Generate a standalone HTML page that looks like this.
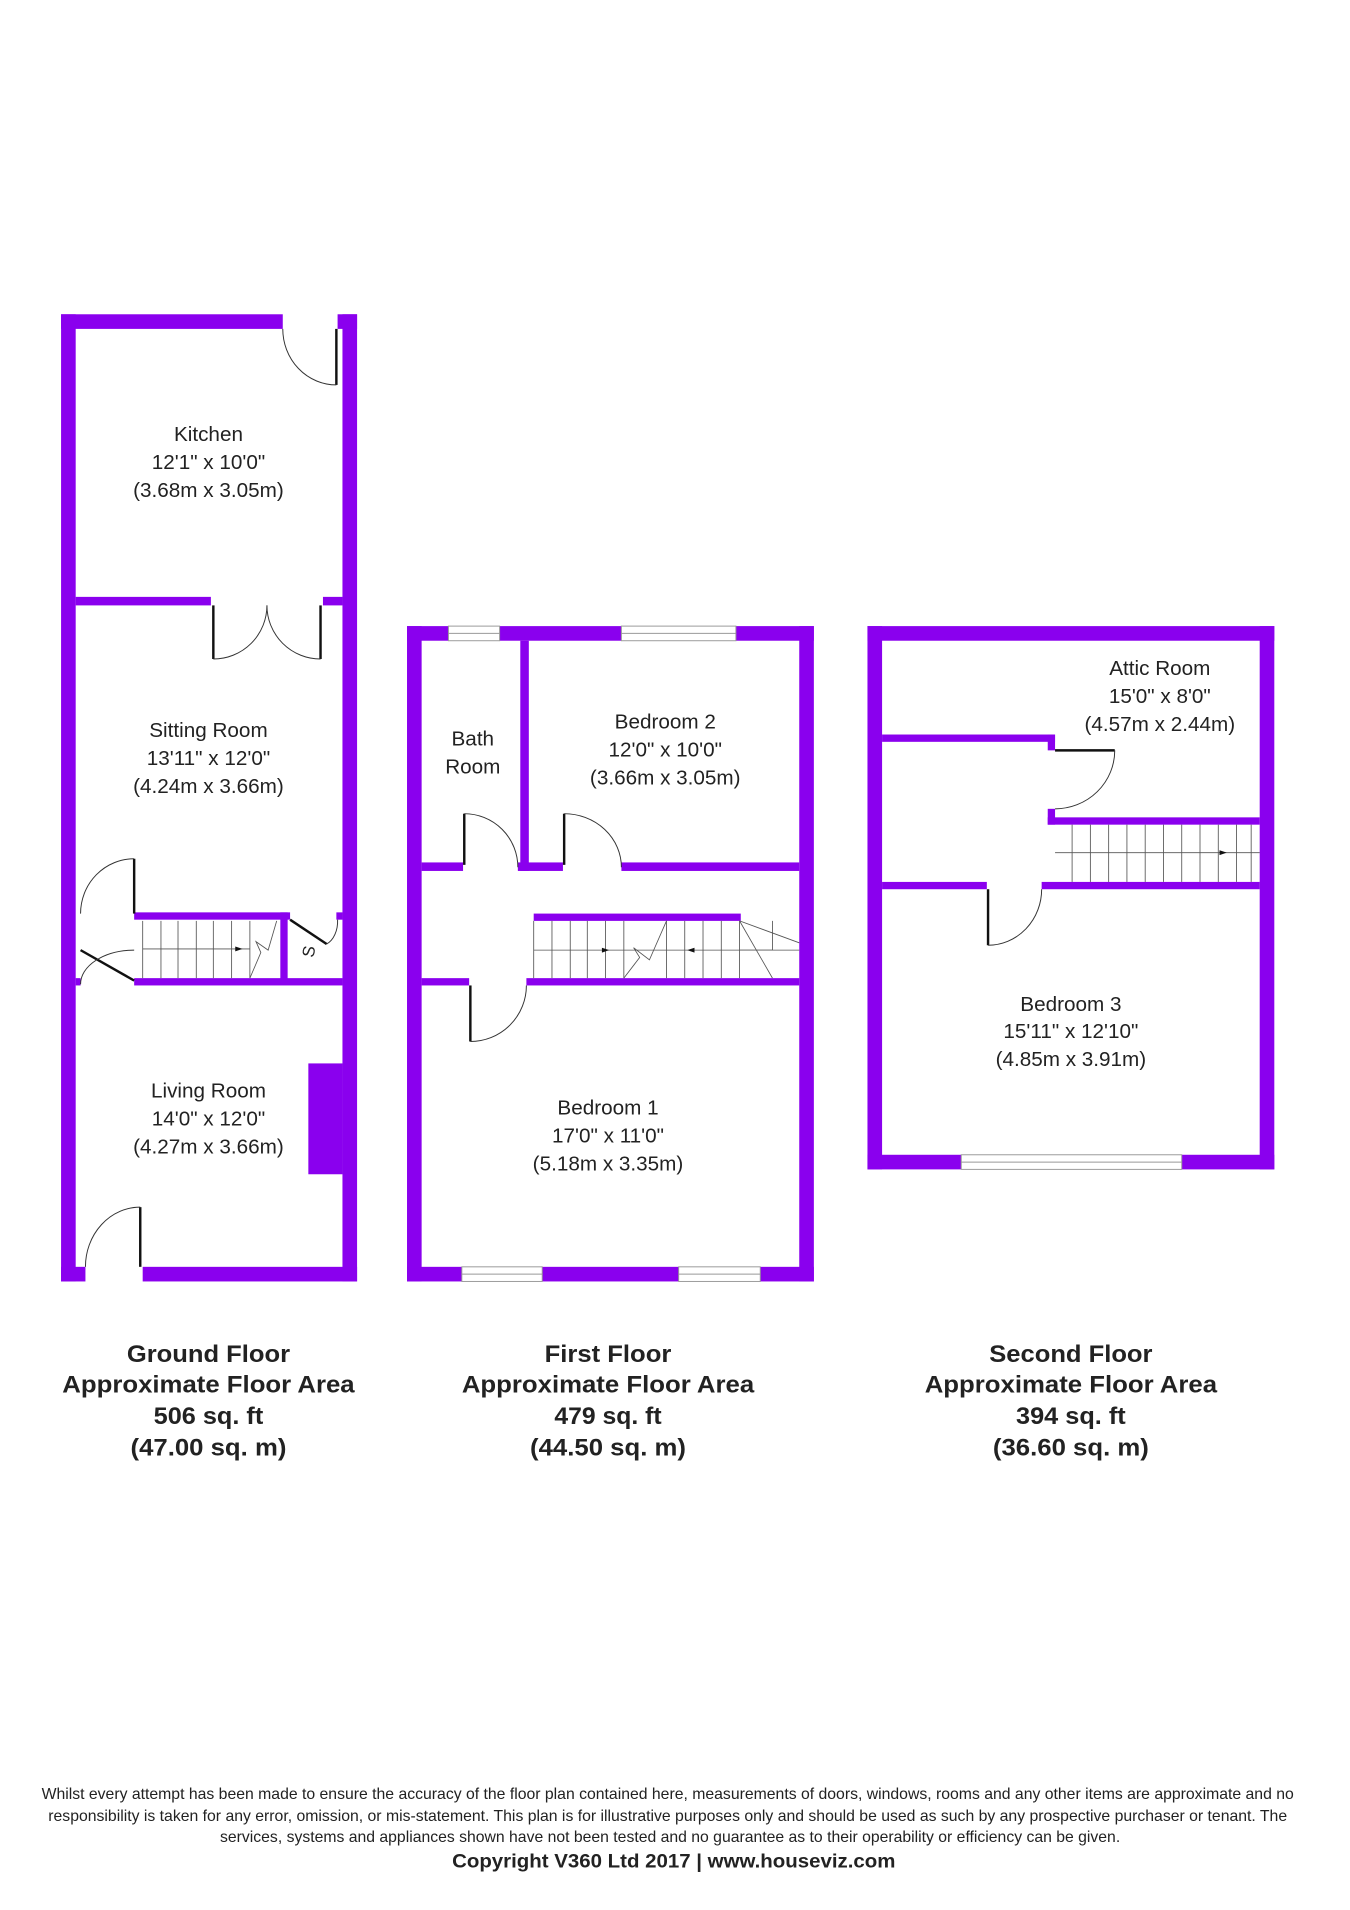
<!DOCTYPE html>
<html><head><meta charset="utf-8"><style>
html,body{margin:0;padding:0;background:#fff;}
svg{display:block;}
text{font-family:"Liberation Sans",sans-serif;fill:#222;}
</style></head><body>
<svg width="1350" height="1910" viewBox="0 0 1108 1568" xmlns="http://www.w3.org/2000/svg">
<rect width="1108" height="1568" fill="#fff"/>
<g fill="#8a00ee">
<!-- Ground floor -->
<rect x="50" y="258" width="182" height="12"/>
<rect x="277" y="258" width="16" height="12"/>
<rect x="50" y="258" width="12" height="794"/>
<rect x="281" y="258" width="12" height="794"/>
<rect x="62" y="490" width="111" height="7"/>
<rect x="265" y="490" width="16" height="7"/>
<rect x="110" y="749" width="128" height="6"/>
<rect x="230" y="749" width="6" height="59"/>
<rect x="110" y="803" width="171" height="6"/>
<rect x="62" y="803" width="4" height="6"/>
<rect x="276" y="749" width="5" height="6"/>
<rect x="253" y="873" width="28" height="91"/>
<rect x="50" y="1040" width="20" height="12"/>
<rect x="117" y="1040" width="176" height="12"/>
<!-- First floor -->
<rect x="334" y="514" width="34" height="12"/>
<rect x="410" y="514" width="100" height="12"/>
<rect x="604" y="514" width="64" height="12"/>
<rect x="334" y="514" width="12" height="538"/>
<rect x="656" y="514" width="12" height="538"/>
<rect x="334" y="1040" width="45" height="12"/>
<rect x="445" y="1040" width="112" height="12"/>
<rect x="624" y="1040" width="44" height="12"/>
<rect x="427" y="526" width="7" height="189"/>
<rect x="346" y="708" width="34" height="7"/>
<rect x="425" y="708" width="37" height="7"/>
<rect x="510" y="708" width="146" height="7"/>
<rect x="438" y="750" width="170" height="6"/>
<rect x="346" y="803" width="39" height="6"/>
<rect x="432" y="803" width="224" height="6"/>
<!-- Second floor -->
<rect x="712" y="514" width="334" height="12"/>
<rect x="712" y="514" width="12" height="446"/>
<rect x="1034" y="514" width="12" height="446"/>
<rect x="712" y="948" width="77" height="12"/>
<rect x="970" y="948" width="76" height="12"/>
<rect x="724" y="603" width="142" height="6"/>
<rect x="860" y="603" width="6" height="13"/>
<rect x="860" y="664" width="6" height="13"/>
<rect x="860" y="671" width="174" height="6"/>
<rect x="724" y="724" width="86" height="6"/>
<rect x="855" y="724" width="179" height="6"/>
</g>
<!-- windows -->
<g fill="#fff" stroke="#999" stroke-width="0.8">
<rect x="368" y="514" width="42" height="12"/><line x1="368" y1="520" x2="410" y2="520"/>
<rect x="510" y="514" width="94" height="12"/><line x1="510" y1="520" x2="604" y2="520"/>
<rect x="379" y="1040" width="66" height="12"/><line x1="379" y1="1046" x2="445" y2="1046"/>
<rect x="557" y="1040" width="67" height="12"/><line x1="557" y1="1046" x2="624" y2="1046"/>
<rect x="789" y="948" width="181" height="12"/><line x1="789" y1="954" x2="970" y2="954"/>
</g>
<!-- doors -->
<g fill="none" stroke="#111" stroke-width="2">
<line x1="276" y1="270" x2="276" y2="316"/>
<line x1="175" y1="497" x2="175" y2="541"/>
<line x1="263" y1="497" x2="263" y2="541"/>
<line x1="110" y1="705" x2="110" y2="750"/>
<line x1="66" y1="780" x2="110" y2="805"/>
<line x1="238" y1="755" x2="268" y2="775"/>
<line x1="115" y1="991" x2="115" y2="1040"/>
<line x1="381" y1="668" x2="381" y2="710"/>
<line x1="463" y1="668" x2="463" y2="710"/>
<line x1="386" y1="809" x2="386" y2="855"/>
<line x1="866" y1="616" x2="915" y2="616"/>
<line x1="811" y1="730" x2="811" y2="776"/>
</g>
<g fill="none" stroke="#333" stroke-width="0.8">
<path d="M232,270 A44,46 0 0 0 276,316"/>
<path d="M219,497 A44,44 0 0 1 175,541"/>
<path d="M219,497 A44,44 0 0 0 263,541"/>
<path d="M66,750 A44,45 0 0 1 110,705"/>
<path d="M66,808 A44,28 0 0 1 110,780"/>
<path d="M277,755 A14,20 0 0 1 268,775"/>
<path d="M70,1040 A45,49 0 0 1 115,991"/>
<path d="M381,668 A44,44 0 0 1 425,712"/>
<path d="M463,668 A47,44 0 0 1 510,712"/>
<path d="M432,809 A46,46 0 0 1 386,855"/>
<path d="M915,616 A49,48 0 0 1 866,664"/>
<path d="M855,730 A44,46 0 0 1 811,776"/>
</g>
<!-- stairs -->
<g fill="none" stroke="#555" stroke-width="0.7">
<line x1="117" y1="779" x2="205" y2="779"/>
<line x1="117" y1="756" x2="117" y2="803"/><line x1="132" y1="756" x2="132" y2="803"/><line x1="146" y1="756" x2="146" y2="803"/><line x1="161" y1="756" x2="161" y2="803"/><line x1="175" y1="756" x2="175" y2="803"/><line x1="190" y1="756" x2="190" y2="803"/><line x1="205" y1="756" x2="205" y2="803"/>
<path d="M205,803 L214,782 L210,773 L220,780 L227,756"/>
<line x1="438" y1="780" x2="656" y2="780"/>
<line x1="438" y1="756" x2="438" y2="803"/><line x1="453" y1="756" x2="453" y2="803"/><line x1="468" y1="756" x2="468" y2="803"/><line x1="482" y1="756" x2="482" y2="803"/><line x1="497" y1="756" x2="497" y2="803"/><line x1="512" y1="756" x2="512" y2="803"/>
<path d="M512,803 L525,786 L520,778 L533,788 L547,756"/>
<line x1="547" y1="756" x2="547" y2="803"/><line x1="562" y1="756" x2="562" y2="803"/><line x1="577" y1="756" x2="577" y2="803"/><line x1="592" y1="756" x2="592" y2="803"/><line x1="607" y1="756" x2="607" y2="803"/>
<line x1="607" y1="756" x2="656" y2="774"/><line x1="607" y1="756" x2="634" y2="803"/><line x1="607" y1="780" x2="634" y2="780"/><line x1="634" y1="756" x2="634" y2="780"/>
<line x1="866" y1="700" x2="1034" y2="700"/>
<line x1="880" y1="677" x2="880" y2="724"/><line x1="895" y1="677" x2="895" y2="724"/><line x1="910" y1="677" x2="910" y2="724"/><line x1="925" y1="677" x2="925" y2="724"/><line x1="940" y1="677" x2="940" y2="724"/><line x1="955" y1="677" x2="955" y2="724"/><line x1="970" y1="677" x2="970" y2="724"/><line x1="985" y1="677" x2="985" y2="724"/><line x1="1000" y1="677" x2="1000" y2="724"/><line x1="1015" y1="677" x2="1015" y2="724"/><line x1="1027" y1="677" x2="1027" y2="724"/>
</g>
<g fill="#111">
<path d="M199,779 l-6,-2 v4z"/><path d="M500,780 l-6,-2 v4z"/><path d="M564,780 l6,-2 v4z"/><path d="M1007,700 l-6,-2 v4z"/>
</g>
<text x="258" y="782" font-size="14" text-anchor="middle" transform="rotate(-80 258 782)">S</text>
<!-- labels -->
<g font-size="17" text-anchor="middle">
<text x="171" y="362">Kitchen</text><text x="171" y="385">12'1" x 10'0"</text><text x="171" y="408">(3.68m x 3.05m)</text>
<text x="171" y="605">Sitting Room</text><text x="171" y="628">13'11" x 12'0"</text><text x="171" y="651">(4.24m x 3.66m)</text>
<text x="171" y="901">Living Room</text><text x="171" y="924">14'0" x 12'0"</text><text x="171" y="947">(4.27m x 3.66m)</text>
<text x="388" y="612">Bath</text><text x="388" y="635">Room</text>
<text x="546" y="598">Bedroom 2</text><text x="546" y="621">12'0" x 10'0"</text><text x="546" y="644">(3.66m x 3.05m)</text>
<text x="499" y="915">Bedroom 1</text><text x="499" y="938">17'0" x 11'0"</text><text x="499" y="961">(5.18m x 3.35m)</text>
<text x="952" y="554">Attic Room</text><text x="952" y="577">15'0" x 8'0"</text><text x="952" y="600">(4.57m x 2.44m)</text>
<text x="879" y="830">Bedroom 3</text><text x="879" y="852">15'11" x 12'10"</text><text x="879" y="875">(4.85m x 3.91m)</text>
</g>
<g font-size="20" font-weight="bold" text-anchor="middle">
<text x="171" y="1118" textLength="134" lengthAdjust="spacingAndGlyphs">Ground Floor</text>
<text x="171" y="1143" textLength="240" lengthAdjust="spacingAndGlyphs">Approximate Floor Area</text>
<text x="171" y="1169" textLength="90" lengthAdjust="spacingAndGlyphs">506 sq. ft</text>
<text x="171" y="1195" textLength="128" lengthAdjust="spacingAndGlyphs">(47.00 sq. m)</text>
<text x="499" y="1118" textLength="104" lengthAdjust="spacingAndGlyphs">First Floor</text>
<text x="499" y="1143" textLength="240" lengthAdjust="spacingAndGlyphs">Approximate Floor Area</text>
<text x="499" y="1169" textLength="88" lengthAdjust="spacingAndGlyphs">479 sq. ft</text>
<text x="499" y="1195" textLength="128" lengthAdjust="spacingAndGlyphs">(44.50 sq. m)</text>
<text x="879" y="1118" textLength="134" lengthAdjust="spacingAndGlyphs">Second Floor</text>
<text x="879" y="1143" textLength="240" lengthAdjust="spacingAndGlyphs">Approximate Floor Area</text>
<text x="879" y="1169" textLength="90" lengthAdjust="spacingAndGlyphs">394 sq. ft</text>
<text x="879" y="1195" textLength="128" lengthAdjust="spacingAndGlyphs">(36.60 sq. m)</text>
</g>
<g font-size="12.5" text-anchor="middle">
<text x="548" y="1477" textLength="1028" lengthAdjust="spacingAndGlyphs">Whilst every attempt has been made to ensure the accuracy of the floor plan contained here, measurements of doors, windows, rooms and any other items are approximate and no</text>
<text x="548" y="1495" textLength="1017" lengthAdjust="spacingAndGlyphs">responsibility is taken for any error, omission, or mis-statement. This plan is for illustrative purposes only and should be used as such by any prospective purchaser or tenant. The</text>
<text x="550" y="1512" textLength="739" lengthAdjust="spacingAndGlyphs">services, systems and appliances shown have not been tested and no guarantee as to their operability or efficiency can be given.</text>
</g>
<text x="553" y="1533" font-size="16" font-weight="bold" text-anchor="middle" textLength="364" lengthAdjust="spacingAndGlyphs">Copyright V360 Ltd 2017 | www.houseviz.com</text>
</svg>
</body></html>
